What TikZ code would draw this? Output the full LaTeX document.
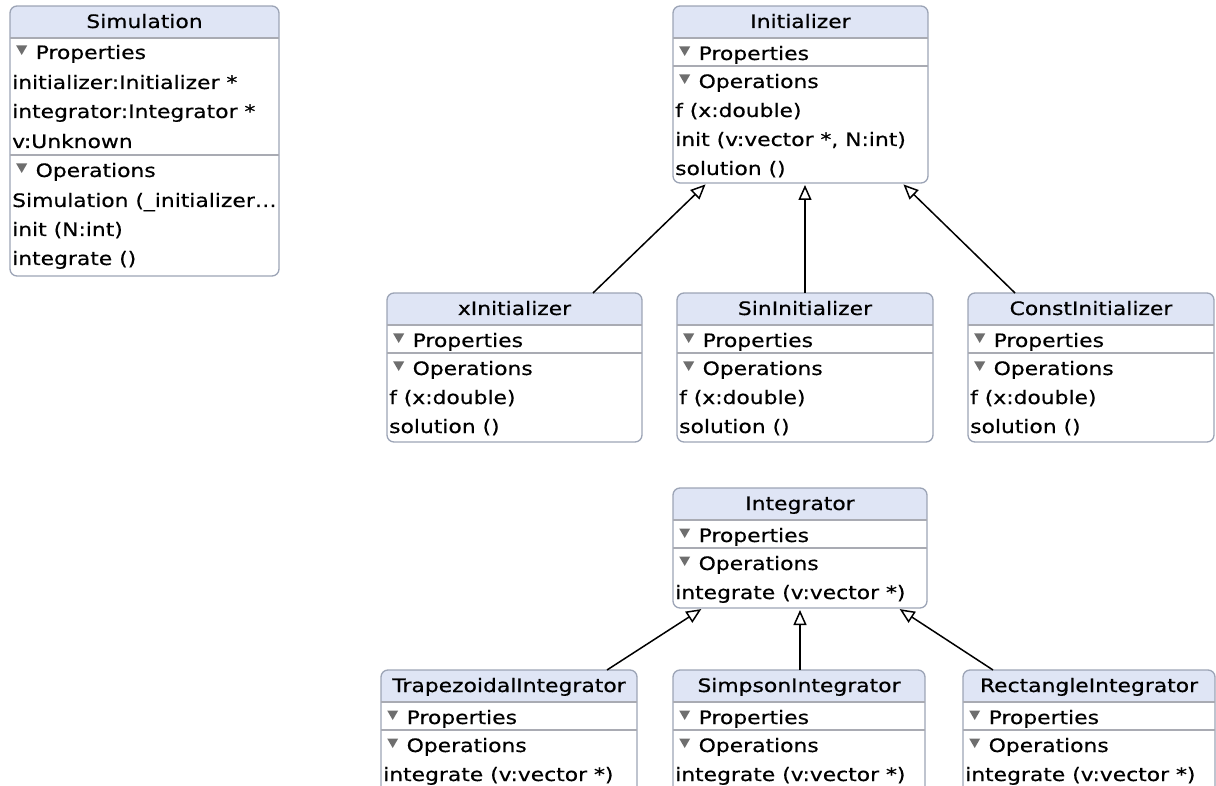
\documentclass[tikz,border=0pt]{standalone}
\usepackage{fontspec}
\setmainfont[FakeStretch=1.18,FakeBold=0.5]{DejaVu Sans}
\usetikzlibrary{arrows.meta}
\definecolor{bordercol}{HTML}{9CA4B6}
\definecolor{hdrfill}{HTML}{DFE5F5}
\definecolor{sepcol}{HTML}{A9ABB3}
\definecolor{trigray}{HTML}{6E6E6E}
\pgfdeclarelayer{background}
\pgfsetlayers{background,main}
\newcommand\tri{\tikz[baseline=0pt]\fill[trigray](0pt,13.5pt)--(11pt,13.5pt)--(5.5pt,4pt)--cycle;\hspace{8.5pt}}
\newcommand\umlhead[2]{%
  \begin{pgfonlayer}{background}
    \begin{scope}
      \clip[rounded corners=7pt] (#1.north west) rectangle (#1.south east);
      \fill[hdrfill] (#1.north west) rectangle ([yshift=-32pt]#1.north east);
    \end{scope}
  \end{pgfonlayer}
  \draw[sepline] ([yshift=-32pt]#1.north west) -- ([yshift=-32pt]#1.north east);
  \node[hdrtext] (#1-title) at ([yshift=-22pt]#1.north) {#2};
}
\newcommand\umlsep[2]{\draw[sepline] ([yshift=-#2pt]#1.north west) -- ([yshift=-#2pt]#1.north east);}
\newcommand\umlrow[4]{\node[rowtext] (#1-#2) at ([xshift=2pt,yshift=-#3pt]#1.north west) {#4};}
\newcommand\umltri[4]{\node[rowtext] (#1-#2) at ([xshift=6pt,yshift=-#3pt]#1.north west) {\tri #4};}
\begin{document}
\begin{tikzpicture}[x=1pt,y=-1pt,
  umlbox/.style={draw=bordercol, line width=1.3pt, rounded corners=7pt, anchor=north west, inner sep=0pt, outer sep=0pt},
  sepline/.style={draw=sepcol, line width=1.1pt},
  hdrtext/.style={anchor=base, inner sep=0pt, font=\fontsize{18.5pt}{21pt}\selectfont},
  rowtext/.style={anchor=base west, inner sep=0pt, font=\fontsize{18.5pt}{21pt}\selectfont},
  gen/.style={draw=black, line width=1.5pt, shorten >=2pt, -{Triangle[open, length=15pt, width=13pt, fill=white]}}]
\useasboundingbox (0,0) rectangle (1216,786);
\begin{scope}
\clip (0,0) rectangle (1216,786);
% Simulation
\node[umlbox, minimum width=269pt, minimum height=270pt] (sim) at (10,6) {};
\umlhead{sim}{Simulation}
\umltri{sim}{p}{53}{Properties}
\umlrow{sim}{a}{83}{initializer:Initializer *}
\umlrow{sim}{b}{112}{integrator:Integrator *}
\umlrow{sim}{c}{142}{v:Unknown}
\umlsep{sim}{149}
\umltri{sim}{o}{171}{Operations}
\umlrow{sim}{d}{201}{Simulation (\_initializer…}
\umlrow{sim}{e}{230}{init (N:int)}
\umlrow{sim}{f}{259}{integrate ()}
% Initializer
\node[umlbox, minimum width=255pt, minimum height=177pt] (init) at (673,6) {};
\umlhead{init}{Initializer}
\umltri{init}{p}{54}{Properties}
\umlsep{init}{60}
\umltri{init}{o}{82}{Operations}
\umlrow{init}{a}{111}{f (x:double)}
\umlrow{init}{b}{140}{init (v:vector *, N:int)}
\umlrow{init}{c}{169}{solution ()}
% xInitializer
\node[umlbox, minimum width=255pt, minimum height=149pt] (xinit) at (387,293) {};
\umlhead{xinit}{xInitializer}
\umltri{xinit}{p}{54}{Properties}
\umlsep{xinit}{60}
\umltri{xinit}{o}{82}{Operations}
\umlrow{xinit}{a}{111}{f (x:double)}
\umlrow{xinit}{b}{140}{solution ()}
% SinInitializer
\node[umlbox, minimum width=256pt, minimum height=149pt] (sin) at (677,293) {};
\umlhead{sin}{SinInitializer}
\umltri{sin}{p}{54}{Properties}
\umlsep{sin}{60}
\umltri{sin}{o}{82}{Operations}
\umlrow{sin}{a}{111}{f (x:double)}
\umlrow{sin}{b}{140}{solution ()}
% ConstInitializer
\node[umlbox, minimum width=246pt, minimum height=149pt] (const) at (968,293) {};
\umlhead{const}{ConstInitializer}
\umltri{const}{p}{54}{Properties}
\umlsep{const}{60}
\umltri{const}{o}{82}{Operations}
\umlrow{const}{a}{111}{f (x:double)}
\umlrow{const}{b}{140}{solution ()}
% Integrator
\node[umlbox, minimum width=254pt, minimum height=120pt] (integ) at (673,488) {};
\umlhead{integ}{Integrator}
\umltri{integ}{p}{54}{Properties}
\umlsep{integ}{60}
\umltri{integ}{o}{82}{Operations}
\umlrow{integ}{a}{111}{integrate (v:vector *)}
% Trapezoidal
\node[umlbox, minimum width=256pt, minimum height=140pt] (trap) at (381,670) {};
\umlhead{trap}{TrapezoidalIntegrator}
\umltri{trap}{p}{54}{Properties}
\umlsep{trap}{60}
\umltri{trap}{o}{82}{Operations}
\umlrow{trap}{a}{111}{integrate (v:vector *)}
% Simpson
\node[umlbox, minimum width=252pt, minimum height=140pt] (simp) at (673,670) {};
\umlhead{simp}{SimpsonIntegrator}
\umltri{simp}{p}{54}{Properties}
\umlsep{simp}{60}
\umltri{simp}{o}{82}{Operations}
\umlrow{simp}{a}{111}{integrate (v:vector *)}
% Rectangle
\node[umlbox, minimum width=252pt, minimum height=140pt] (rect) at (963,670) {};
\umlhead{rect}{RectangleIntegrator}
\umltri{rect}{p}{54}{Properties}
\umlsep{rect}{60}
\umltri{rect}{o}{82}{Operations}
\umlrow{rect}{a}{111}{integrate (v:vector *)}
% generalizations
\draw[gen] ([xshift=78.5pt]xinit.north) -- ([xshift=-93.5pt]init.south);
\draw[gen] (sin.north) -- (sin.north |- init.south);
\draw[gen] ([xshift=-76pt]const.north) -- ([xshift=101.5pt]init.south);
\draw[gen] ([xshift=98pt]trap.north) -- ([xshift=-97pt]integ.south);
\draw[gen] ([xshift=1pt]simp.north) -- ([xshift=1pt]simp.north |- integ.south);
\draw[gen] ([xshift=-96pt]rect.north) -- ([xshift=98pt]integ.south);
\end{scope}
\end{tikzpicture}
\end{document}
